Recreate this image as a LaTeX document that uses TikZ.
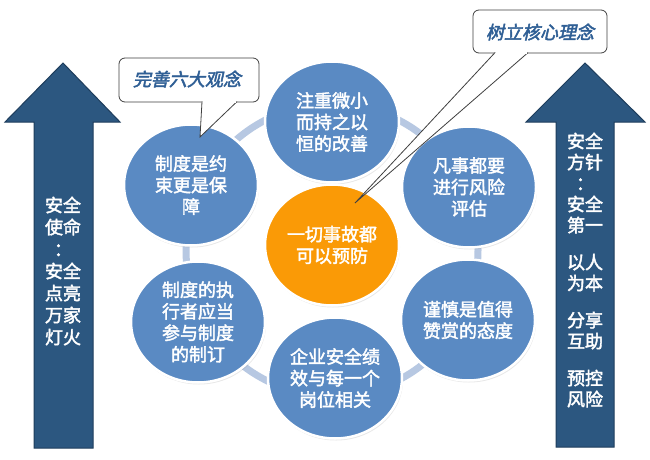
\documentclass[tikz,border=0pt]{standalone}
\usepackage{fontspec}
\newfontfamily\cjk{Noto Sans CJK SC}
\newfontfamily\cjkbold[FakeBold=2.2]{Noto Sans CJK SC}
\newfontfamily\cjkital[FakeSlant=0.22,FakeBold=2.5]{Noto Sans CJK SC}
\usetikzlibrary{shapes.geometric,shadows}
\definecolor{arrowblue}{HTML}{2C5780}
\definecolor{arrowedge}{HTML}{1E3D5C}
\definecolor{circblue}{HTML}{5A8AC3}
\definecolor{ringblue}{HTML}{B7C8E2}
\definecolor{orng}{HTML}{FA9A06}
\definecolor{calltext}{HTML}{2F5F95}
\tikzset{
  bubble/.style={ellipse, draw=white, line width=2.5pt, fill=circblue,
    minimum width=134pt, minimum height=121pt, inner sep=0pt, text=white,
    align=center, font=\cjkbold\fontsize{18}{21.5}\selectfont,
    drop shadow={opacity=0.18, shadow xshift=1pt, shadow yshift=-2pt}},
  arrowtext/.style={text=white, align=center, font=\cjkbold\fontsize{18}{22}\selectfont, inner sep=0pt},
  callbox/.style={draw=black!75, line width=0.8pt, fill=white, rounded corners=6pt},
  calltxt/.style={text=calltext, font=\cjkital\fontsize{18}{20}\selectfont, inner sep=0pt},
  bigarrow/.style={fill=arrowblue, draw=arrowedge, line width=1pt}
}
\begin{document}
\begin{tikzpicture}[x=1pt,y=-1pt]
\useasboundingbox (0,0) rectangle (650,460);
\fill[white] (0,0) rectangle (650,460);
% left arrow
\draw[bigarrow] (34,448) -- (34,122) -- (5,122) -- (63,63) -- (120,122) -- (93,122) -- (93,448) -- cycle;
\node[arrowtext] (lefttext) at (63,271) {安全\\使命\\：\\安全\\点亮\\万家\\灯火};
% right arrow
\draw[bigarrow] (556,447) -- (556,122) -- (526,122) -- (585,63) -- (645,122) -- (614,122) -- (614,447) -- cycle;
\node[arrowtext, font=\cjkbold\fontsize{18}{21}\selectfont] (righttext) at (585,270) {安全\\方针\\：\\安全\\第一\\[16pt]以人\\为本\\[16pt]分享\\互助\\[16pt]预控\\风险};
% ring
\draw[ringblue, line width=7pt] (332,250) circle[radius=146pt];
% bubbles
\node[bubble] (top) at (332,122) {注重微小\\而持之以\\恒的改善};
\node[bubble] (ul) at (191,185) {制度是约\\束更是保\\障};
\node[bubble] (ur) at (469,187) {凡事都要\\进行风险\\评估};
\node[bubble] (ll) at (198,322) {制度的执\\行者应当\\参与制度\\的制订};
\node[bubble] (lr) at (468,320) {谨慎是值得\\赞赏的态度};
\node[bubble] (bot) at (335,378) {企业安全绩\\效与每一个\\岗位相关};
\node[bubble, fill=orng] (mid) at (332,245) {一切事故都\\可以预防};
% callout 1
\coordinate (tip1) at (200,137);
\draw[callbox] (119,58) rectangle (259,102);
\filldraw[fill=white, draw=black!75, line width=0.8pt, line join=miter] (202,101.6) -- (tip1) -- (237,101.6);
\fill[white] (202.6,99) -- (202.6,103) -- (236,103) -- (236,99) -- cycle;
\node[calltxt] (call1) at (187,79) {完善六大观念};
% callout 2
\coordinate (tip2) at (355,203);
\draw[callbox] (473,10) rectangle (607,53);
\filldraw[fill=white, draw=black!75, line width=0.8pt, line join=miter] (495,52.6) -- (tip2) -- (528,52.6);
\fill[white] (496,50) -- (496,54) -- (527,54) -- (527,50) -- cycle;
\node[calltxt] (call2) at (540,32) {树立核心理念};
\end{tikzpicture}
\end{document}
